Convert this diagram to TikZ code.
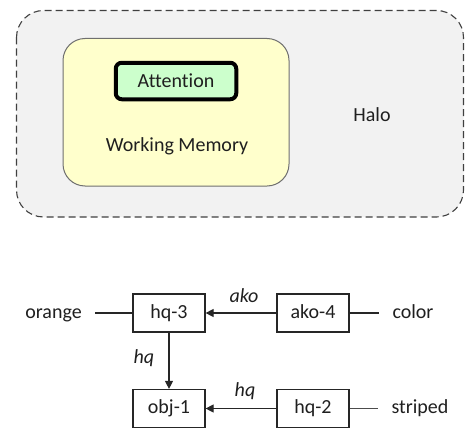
\documentclass[tikz,border=0pt]{standalone}
\usepackage{fontspec}
\setmainfont{Carlito}[Ligatures=NoCommon]
\usetikzlibrary{arrows.meta}
\definecolor{halofill}{HTML}{F2F2F2}
\definecolor{haloline}{HTML}{404040}
\definecolor{wmfill}{HTML}{FFFFCC}
\definecolor{wmline}{HTML}{6F6F6F}
\definecolor{attfill}{HTML}{CCFFCC}
\definecolor{txt}{HTML}{1F1F1F}
\begin{document}
\begin{tikzpicture}[x=1pt,y=-1pt,
  every node/.style={font=\fontsize{20}{24}\selectfont, text=txt},
  box/.style={draw=black!85, line width=1.2pt, minimum width=72pt, minimum height=38pt, inner sep=0pt, fill=white, text height=14pt, text depth=4pt},
  lbl/.style={inner xsep=13.5pt, inner ysep=2pt, text height=14pt, text depth=4pt},
  rel/.style={font=\fontsize{20}{24}\selectfont\itshape, inner sep=1pt},
  conn/.style={draw=black!85, line width=1.2pt},
  arr/.style={conn, -{Triangle[length=8pt,width=8pt]}}]
\useasboundingbox (0,0) rectangle (465,428);
% Halo region
\draw[fill=halofill, draw=haloline, line width=1.1pt, dash pattern=on 7pt off 4pt, rounded corners=27pt]
  (16.5,10.5) rectangle (463.5,217);
\node (halo) at (372,115) {Halo};
% Working memory
\draw[fill=wmfill, draw=wmline, line width=1pt, rounded corners=22pt]
  (63,38.5) rectangle (289,186);
\node (wm) at (177,146) {Working Memory};
% Attention
\node[draw=black, fill=attfill, line width=4pt, rounded corners=6pt,
      minimum width=120.5pt, minimum height=36.5pt, inner sep=0pt] (att) at (176,81) {Attention};
% Graph
\node[box] (hq3) at (169,313) {hq-3};
\node[box] (ako4) at (313,313) {ako-4};
\node[box] (obj1) at (169,408.5) {obj-1};
\node[box] (hq2) at (313,408.5) {hq-2};
\node[lbl] (orange) at (53.5,313) {orange};
\node[lbl] (color) at (413,313) {color};
\node[lbl] (striped) at (420,408.5) {striped};
\draw[conn] (orange) -- (hq3);
\draw[conn] (ako4) -- (color);
\draw[conn, draw=black!70] (hq2) -- (striped);
\draw[arr] (ako4) -- (hq3);
\draw[arr] (hq3) -- (obj1);
\draw[arr] (hq2) -- (obj1);
\node[rel] (lako) at (244,296) {ako};
\node[rel] (lhq1) at (144,358) {hq};
\node[rel] (lhq2) at (245,391) {hq};
\end{tikzpicture}
\end{document}
